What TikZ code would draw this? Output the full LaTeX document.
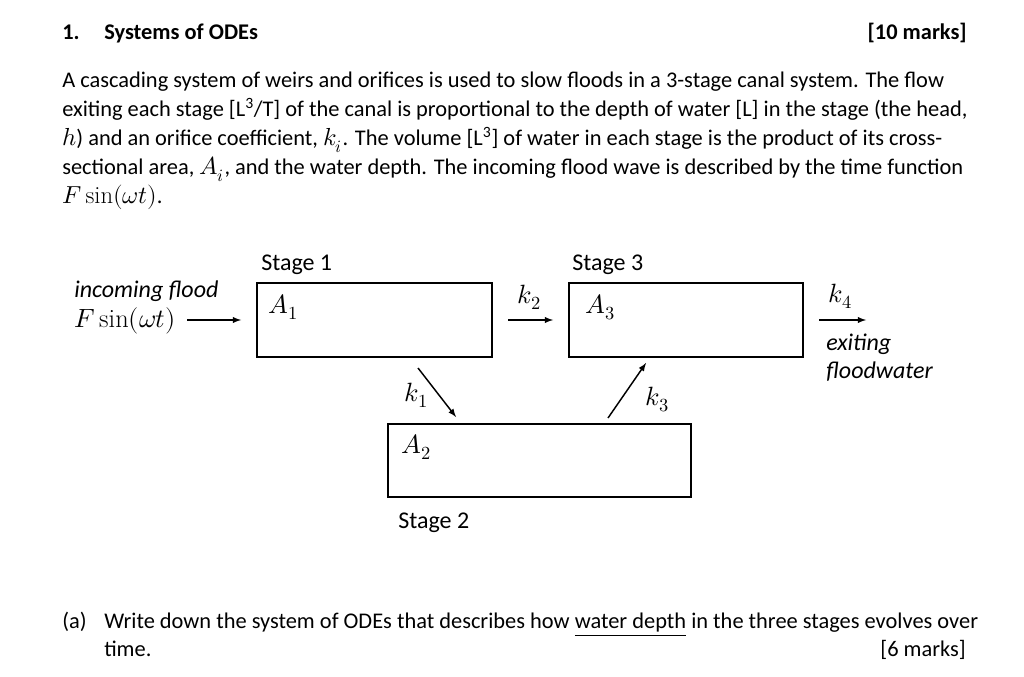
\documentclass[tikz,border=0pt]{standalone}
\usepackage{fontspec}
\usepackage{unicode-math}
\setmainfont{Carlito}
\setmathfont{Latin Modern Math}[Scale=1.1]
\setmathrm{Latin Modern Roman}[Scale=1.1]

\tikzset{
  stagebox/.style={draw,line width=2.2pt,inner sep=0pt},
  flow/.style={-latex,line width=1.1pt},
  txt/.style={anchor=base west,inner sep=0pt},
  dia/.style={txt,font=\fontsize{18}{21}\selectfont},
}

\begin{document}
\begin{tikzpicture}[x=0.75pt,y=-0.75pt,font=\fontsize{16.8}{20}\selectfont]
\useasboundingbox (0,0) rectangle (1024,677);

% heading
\node[txt] (num) at (62,40) {\bfseries 1.};
\node[txt] (title) at (104,40) {\bfseries Systems of ODEs};
\node[anchor=base east,inner sep=0pt] (marks) at (967,40) {\bfseries [10 marks]};

% question text
\foreach \txt [count=\ln] in {
  {A cascading system of weirs and orifices is used to slow floods in a 3-stage canal system. The flow},
  {exiting each stage [L\textsuperscript{3}/T] of the canal is proportional to the depth of water [L] in the stage (the head,},
  {$h$) and an orifice coefficient, $k_i$. The volume [L\textsuperscript{3}] of water in each stage is the product of its cross-},
  {sectional area, $A_i$, and the water depth. The incoming flood wave is described by the time function},
  {$F\sin(\omega t)$.}}
\node[txt] (line\ln) at (62,{59+29*\ln}) {\txt};

% stages
\draw[stagebox] (257,283) rectangle (492,357);
\draw[stagebox] (569,283) rectangle (803,357);
\draw[stagebox] (388,424) rectangle (691,497);
\node[dia] (st1) at (261,271) {Stage 1};
\node[dia] (st3) at (572,271) {Stage 3};
\node[dia] (st2) at (398,528) {Stage 2};
\node[dia] (a1) at (268,313) {$A_1$};
\node[dia] (a3) at (585,313) {$A_3$};
\node[dia] (a2) at (401,453) {$A_2$};

% flows
\coordinate (in0) at (187,320); \coordinate (in1) at (241,320);
\coordinate (k2a) at (508,320); \coordinate (k2b) at (553,320);
\coordinate (k4a) at (819,320); \coordinate (k4b) at (866,320);
\coordinate (k1a) at (418,368); \coordinate (k1b) at (456,417);
\coordinate (k3a) at (608,418); \coordinate (k3b) at (646,363);
\foreach \a/\b in {in0/in1,k2a/k2b,k4a/k4b,k1a/k1b,k3a/k3b}
  \draw[flow] (\a) -- (\b);

\node[dia] (inc) at (74,297) {\itshape incoming flood};
\node[dia] (fin) at (74,327) {$F\sin(\omega t)$};
\node[dia] (ex1) at (826,350) {\itshape exiting};
\node[dia] (ex2) at (826,378) {\itshape floodwater};
\node[dia] (lk1) at (404,401) {$k_1$};
\node[dia] (lk2) at (517,303) {$k_2$};
\node[dia] (lk3) at (645,405) {$k_3$};
\node[dia] (lk4) at (828,302) {$k_4$};

% part (a)
\node[txt] (pa) at (62,628) {(a)};
\node[txt] (qa) at (104,628) {Write down the system of ODEs that describes how \underline{water depth} in the three stages evolves over};
\node[txt] (qb) at (104,656) {time.};
\node[anchor=base east,inner sep=0pt] (marksa) at (966,656) {[6 marks]};
\end{tikzpicture}
\end{document}
